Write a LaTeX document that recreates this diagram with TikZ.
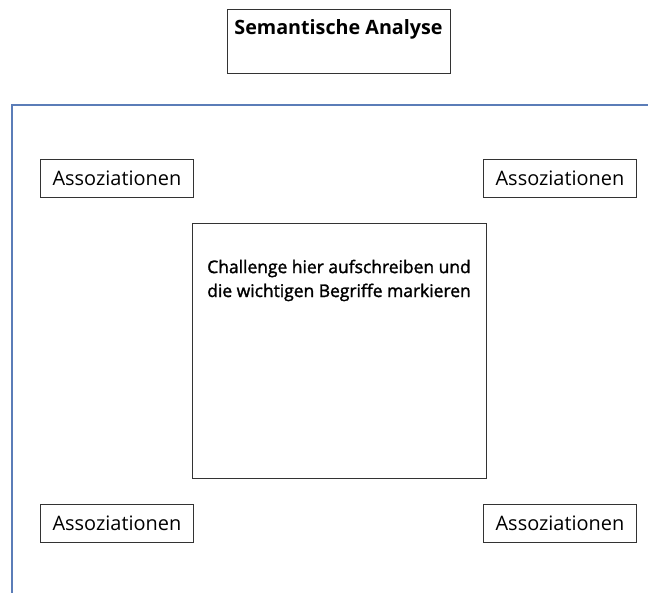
\documentclass[tikz,border=0pt]{standalone}
\usepackage{fontspec}
\setmainfont{Open Sans}
\newfontfamily\semiboldfont[FakeBold=1.6]{Open Sans}
\begin{document}
\begin{tikzpicture}[x=1bp,y=-1bp,
  box/.style={draw=black!80, line width=0.9bp, inner sep=0pt, anchor=north west},
  assoc/.style={box, minimum width=153bp, minimum height=38bp, font=\fontsize{20}{24}\selectfont},
  frameline/.style={draw={rgb,255:red,91;green,125;blue,184}, line width=1.4bp}
]
\useasboundingbox (0,0) rectangle (648,593);

% title box with its heading near the top edge
\node[box, minimum width=223bp, minimum height=64bp] (titlebox) at (227,9) {};
\node[anchor=base, font=\bfseries\fontsize{19.8}{24}\selectfont, inner sep=0pt] (title) at (338.5,35) {Semantische Analyse};

% open blue frame: top edge and left edge
\coordinate (frameR) at (648,105);
\coordinate (frameC) at (12,105);
\coordinate (frameB) at (12,593);
\draw[frameline] (frameR) -- (frameC) -- (frameB);

% the four association boxes
\node[assoc] (a1) at (40,159) {Assoziationen};
\node[assoc] (a2) at (483,159) {Assoziationen};
\node[assoc] (a3) at (40,504) {Assoziationen};
\node[assoc] (a4) at (483,504) {Assoziationen};

% central challenge box; the text node's base is its last line
\node[box, minimum width=294bp, minimum height=255bp] (challengebox) at (192,223) {};
\node[anchor=base, align=center, inner sep=0pt, font=\semiboldfont\fontsize{17.5}{24}\selectfont] (challenge) at (339,297)
  {Challenge hier aufschreiben und\\die wichtigen Begriffe markieren};
\end{tikzpicture}
\end{document}
